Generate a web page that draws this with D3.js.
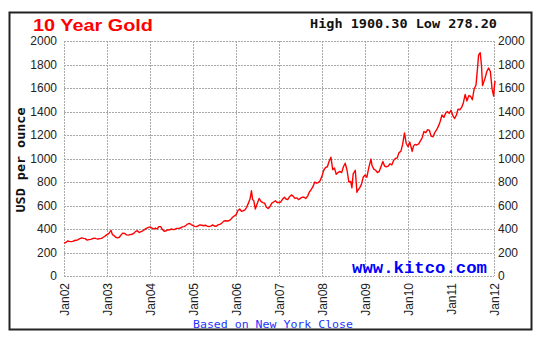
<!DOCTYPE html>
<meta charset="UTF-8">
<style>
body { margin: 0; background: #fff; }
.tick text { font: 12px "Liberation Sans", Arial, sans-serif; fill: #222; }
.grid { stroke: #aaa; stroke-width: 1; stroke-dasharray: 2,1; shape-rendering: crispEdges; }
</style>
<body>
<script src="https://d3js.org/d3.v7.min.js"></script>
<script>
// gold price, USD per ounce (roughly twice a month + spikes)
var priceDates = [
  "2002-01-01","2002-01-16","2002-02-01","2002-02-16","2002-03-01","2002-03-16","2002-04-01","2002-04-16","2002-05-01","2002-05-16","2002-06-01","2002-06-16",
  "2002-07-01","2002-07-16","2002-08-01","2002-08-16","2002-09-01","2002-09-16","2002-10-01","2002-10-16","2002-11-01","2002-11-16","2002-12-01","2002-12-16",
  "2003-01-01","2003-01-16","2003-02-05","2003-02-16","2003-03-01","2003-03-16","2003-04-01","2003-04-16","2003-05-01","2003-05-16","2003-06-01","2003-06-16",
  "2003-07-01","2003-07-16","2003-08-01","2003-08-16","2003-09-01","2003-09-16","2003-10-01","2003-10-16","2003-11-01","2003-11-16","2003-12-01","2003-12-16",
  "2004-01-01","2004-01-16","2004-02-01","2004-02-16","2004-03-01","2004-03-16","2004-04-01","2004-04-16","2004-05-01","2004-05-16","2004-06-01","2004-06-16",
  "2004-07-01","2004-07-16","2004-08-01","2004-08-16","2004-09-01","2004-09-16","2004-10-01","2004-10-16","2004-11-01","2004-11-16","2004-12-01","2004-12-16",
  "2005-01-01","2005-01-16","2005-02-01","2005-02-16","2005-03-01","2005-03-16","2005-04-01","2005-04-16","2005-05-01","2005-05-16","2005-06-01","2005-06-16",
  "2005-07-01","2005-07-16","2005-08-01","2005-08-16","2005-09-01","2005-09-16","2005-10-01","2005-10-16","2005-11-01","2005-11-16","2005-12-01","2005-12-16",
  "2006-01-01","2006-01-16","2006-02-01","2006-02-16","2006-03-01","2006-03-16","2006-04-01","2006-04-16","2006-05-01","2006-05-12","2006-05-22","2006-06-01","2006-06-14",
  "2006-07-01","2006-07-16","2006-08-01","2006-08-16","2006-09-01","2006-09-16","2006-10-01","2006-10-16","2006-11-01","2006-11-16","2006-12-01","2006-12-16",
  "2007-01-01","2007-01-16","2007-02-01","2007-02-16","2007-03-01","2007-03-16","2007-04-01","2007-04-16","2007-05-01","2007-05-16","2007-06-01","2007-06-16",
  "2007-07-01","2007-07-16","2007-08-01","2007-08-16","2007-09-01","2007-09-16","2007-10-01","2007-10-16","2007-11-01","2007-11-16","2007-12-01","2007-12-16",
  "2008-01-01","2008-01-16","2008-02-01","2008-02-16","2008-03-01","2008-03-17","2008-04-01","2008-04-16","2008-05-01","2008-05-16","2008-06-01","2008-06-16",
  "2008-07-01","2008-07-16","2008-08-01","2008-08-16","2008-09-01","2008-09-11","2008-09-22","2008-10-10","2008-10-24","2008-11-01","2008-11-16","2008-12-01","2008-12-16",
  "2009-01-01","2009-01-16","2009-02-01","2009-02-20","2009-03-01","2009-03-16","2009-04-01","2009-04-16","2009-05-01","2009-05-16","2009-06-01","2009-06-16",
  "2009-07-01","2009-07-16","2009-08-01","2009-08-16","2009-09-01","2009-09-16","2009-10-01","2009-10-16","2009-11-01","2009-11-16","2009-12-02","2009-12-16",
  "2010-01-01","2010-01-16","2010-02-05","2010-02-16","2010-03-01","2010-03-16","2010-04-01","2010-04-16","2010-05-01","2010-05-16","2010-06-01","2010-06-16",
  "2010-07-01","2010-07-16","2010-08-01","2010-08-16","2010-09-01","2010-09-16","2010-10-01","2010-10-16","2010-11-01","2010-11-16","2010-12-01","2010-12-16",
  "2011-01-01","2011-01-16","2011-02-01","2011-02-16","2011-03-01","2011-03-16","2011-04-01","2011-04-16","2011-05-01","2011-05-16","2011-06-01","2011-06-16",
  "2011-07-01","2011-07-16","2011-08-01","2011-08-16","2011-08-23","2011-09-06","2011-09-16","2011-09-26","2011-10-16","2011-11-01","2011-11-16","2011-12-01","2011-12-16","2011-12-29",
  "2012-01-05","2012-01-10"
];
var prices = [
  279, 285, 298, 295, 293, 295, 302, 304, 310, 318, 324, 320,
  318, 305, 310, 312, 318, 322, 318, 315, 318, 320, 330, 340,
  352, 360, 388, 352, 345, 330, 325, 330, 350, 365, 362, 350,
  348, 352, 355, 362, 380, 385, 370, 377, 385, 395, 405, 412,
  418, 410, 400, 408, 400, 420, 420, 395, 380, 385, 392, 393,
  400, 395, 398, 405, 405, 408, 418, 420, 430, 442, 448, 438,
  428, 422, 420, 428, 435, 432, 428, 432, 425, 420, 425, 435,
  425, 423, 435, 440, 448, 465, 470, 468, 470, 480, 498, 510,
  520, 555, 570, 550, 555, 560, 585, 620, 660, 725, 650, 640, 570,
  620, 660, 635, 625, 620, 585, 575, 590, 620, 630, 640, 625,
  625, 630, 655, 670, 655, 650, 675, 690, 680, 660, 665, 650,
  660, 670, 670, 660, 680, 715, 735, 760, 800, 790, 795, 810,
  850, 900, 925, 930, 975, 1011, 905, 920, 865, 880, 890, 880,
  930, 960, 900, 800, 805, 750, 870, 900, 712, 730, 750, 780, 840,
  860, 840, 920, 995, 940, 910, 900, 880, 890, 930, 975, 935,
  930, 935, 955, 945, 985, 1000, 1005, 1050, 1060, 1120, 1218, 1130,
  1100, 1140, 1060, 1105, 1120, 1115, 1125, 1150, 1175, 1230, 1220, 1245,
  1240, 1190, 1185, 1220, 1245, 1275, 1315, 1370, 1350, 1385, 1400, 1385,
  1410, 1365, 1340, 1370, 1420, 1415, 1435, 1475, 1545, 1490, 1535, 1530,
  1500, 1590, 1625, 1790, 1880, 1900, 1800, 1620, 1680, 1740, 1770, 1740, 1590, 1531,
  1620, 1660
];
var yTicks = [0, 200, 400, 600, 800, 1000, 1200, 1400, 1600, 1800, 2000];
var xTickYears = [2002, 2003, 2004, 2005, 2006, 2007, 2008, 2009, 2010, 2011, 2012];
var headline = "High 1900.30 Low 278.20";

var parse = d3.timeParse("%Y-%m-%d");
var data = priceDates.map(function(d, i) { return { date: parse(d), price: prices[i] }; });
var xTicks = xTickYears.map(function(y) { return new Date(y, 0, 1); });

var plot = { left: 64, right: 494, top: 41, bottom: 276 };

var svg = d3.select("body").append("svg")
    .attr("width", 550)
    .attr("height", 352);

// outer frame
svg.append("rect")
    .attr("x", 9.5).attr("y", 12.5)
    .attr("width", 522).attr("height", 317)
    .attr("fill", "#fff")
    .attr("stroke", "#222")
    .attr("stroke-width", 2);

var x = d3.scaleTime()
    .domain([xTicks[0], xTicks[xTicks.length - 1]])
    .range([plot.left, plot.right]);

var y = d3.scaleLinear()
    .domain([0, 2000])
    .range([plot.bottom, plot.top]);

// grid lines
svg.selectAll(".hgrid")
    .data(yTicks)
  .enter().append("line")
    .attr("class", "grid")
    .attr("x1", plot.left).attr("x2", plot.right)
    .attr("y1", function(d) { return Math.round(y(d)) + 0.5; })
    .attr("y2", function(d) { return Math.round(y(d)) + 0.5; });

svg.selectAll(".vgrid")
    .data(xTicks)
  .enter().append("line")
    .attr("class", "grid")
    .attr("x1", function(d) { return Math.round(x(d)) + 0.5; })
    .attr("x2", function(d) { return Math.round(x(d)) + 0.5; })
    .attr("y1", plot.top).attr("y2", plot.bottom);

// axes
var leftAxis = svg.append("g")
    .attr("transform", "translate(" + plot.left + ",0)")
    .call(d3.axisLeft(y).tickValues(yTicks).tickSize(0).tickPadding(7).tickFormat(d3.format("d")));
leftAxis.select(".domain").remove();

var rightAxis = svg.append("g")
    .attr("transform", "translate(" + plot.right + ",0)")
    .call(d3.axisRight(y).tickValues(yTicks).tickSize(0).tickPadding(4).tickFormat(d3.format("d")));
rightAxis.select(".domain").remove();

var bottomAxis = svg.append("g")
    .attr("transform", "translate(0," + plot.bottom + ")")
    .call(d3.axisBottom(x).tickValues(xTicks).tickSize(0).tickFormat(d3.timeFormat("%b%y")));
bottomAxis.select(".domain").remove();
bottomAxis.selectAll("text")
    .attr("transform", "rotate(-90)")
    .attr("text-anchor", "end")
    .attr("x", -7)
    .attr("y", 0)
    .attr("dy", "0.35em");

// price line
var line = d3.line()
    .x(function(d) { return x(d.date); })
    .y(function(d) { return y(d.price); });

svg.append("path")
    .datum(data)
    .attr("fill", "none")
    .attr("stroke", "#ff0000")
    .attr("stroke-width", 1.4)
    .attr("stroke-linejoin", "round")
    .attr("d", line);

// texts
svg.append("text")
    .attr("x", 33).attr("y", 30.5)
    .attr("textLength", 120)
    .attr("lengthAdjust", "spacingAndGlyphs")
    .style("font", "bold 17px 'Liberation Sans', Arial, sans-serif")
    .attr("fill", "#ff0000")
    .text("10 Year Gold");

svg.append("text")
    .attr("x", 310).attr("y", 28)
    .attr("textLength", 187)
    .attr("lengthAdjust", "spacingAndGlyphs")
    .style("font", "bold 12px 'DejaVu Sans Mono', monospace")
    .attr("fill", "#111")
    .text(headline);

svg.append("text")
    .attr("transform", "translate(25,160) rotate(-90)")
    .attr("text-anchor", "middle")
    .attr("textLength", 105)
    .attr("lengthAdjust", "spacingAndGlyphs")
    .style("font", "bold 13px 'DejaVu Sans Mono', monospace")
    .attr("fill", "#111")
    .text("USD per ounce");

svg.append("text")
    .attr("x", 487).attr("y", 273)
    .attr("text-anchor", "end")
    .attr("textLength", 135)
    .attr("lengthAdjust", "spacingAndGlyphs")
    .style("font", "bold 17px 'Liberation Mono', 'Courier New', monospace")
    .attr("fill", "#0000ff")
    .text("www.kitco.com");

svg.append("text")
    .attr("x", 193).attr("y", 328)
    .attr("textLength", 160)
    .attr("lengthAdjust", "spacingAndGlyphs")
    .style("font", "11px 'DejaVu Sans Mono', monospace")
    .attr("fill", "#2233ff")
    .text("Based on New York Close");
</script>
</body>
